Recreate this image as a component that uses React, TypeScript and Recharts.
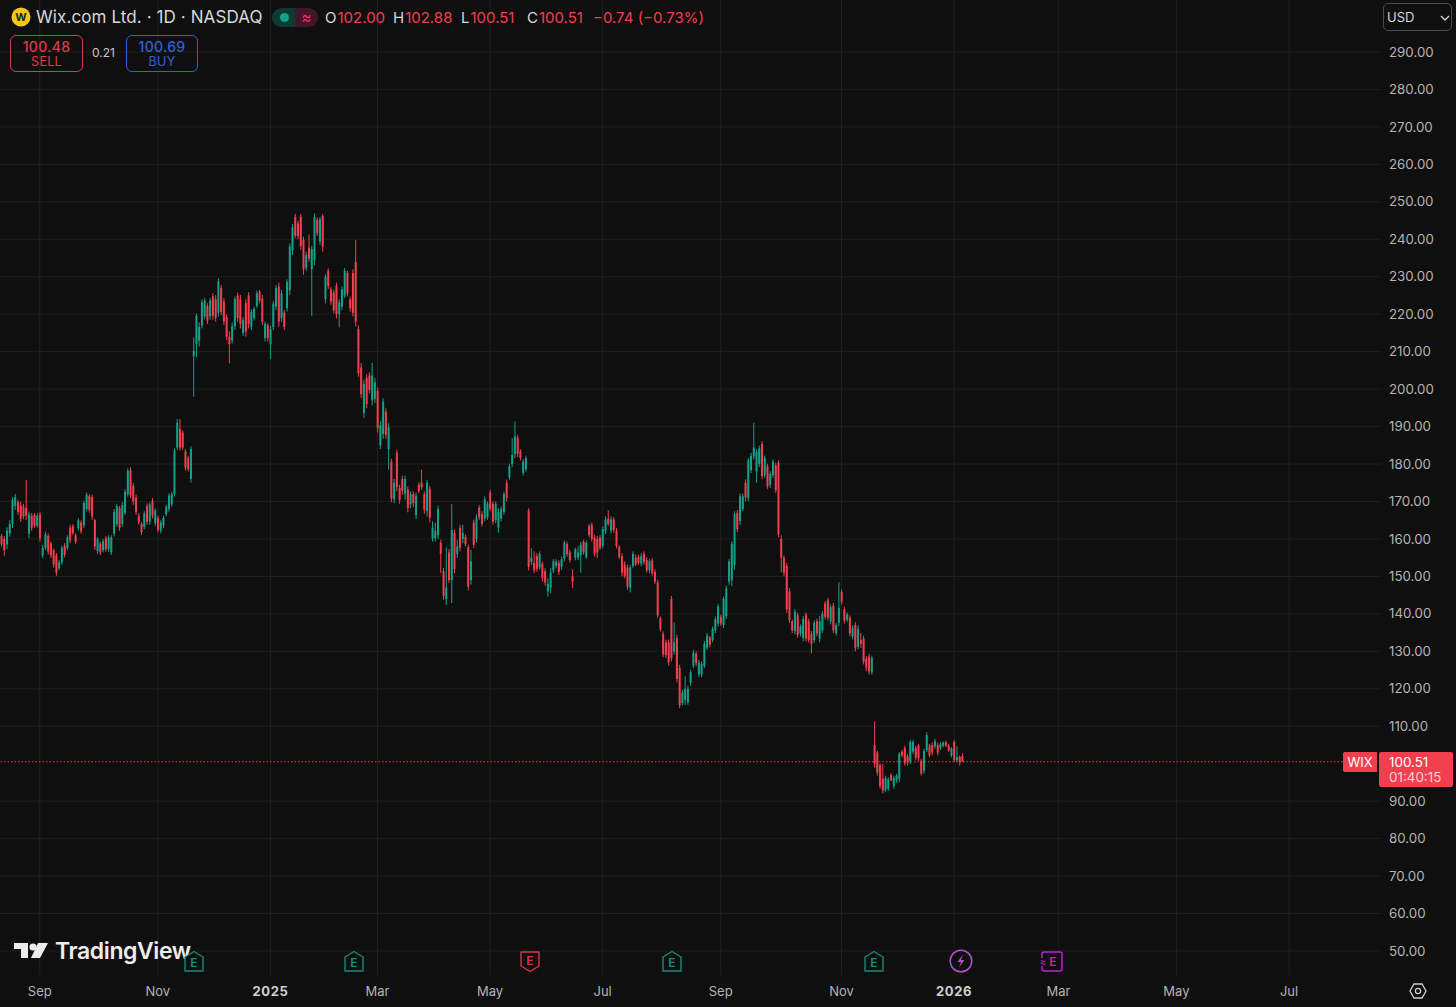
import React from "react";
import {
    ComposedChart,
    Bar,
    XAxis,
    YAxis,
    CartesianGrid,
    ReferenceLine
} from "recharts";

// one row = 10 daily candles, first candle is mid Aug 2024
const highs = [
    161.3,160.8,163.1,165,171.1,172,170.4,170,169.4,175.8,
    167.3,166.9,166.9,166.9,167.2,158.4,162,161.5,159.3,157.5,
    156.2,154.4,158.2,158.9,161,163.8,164,161.5,165.5,165,
    170.2,172.4,172,171.8,165.4,160.5,159.3,160,160.8,161,
    161,168,169.4,168.8,169.8,173.3,178.9,179.1,174.9,171.8,
    166.9,164.5,167.5,169.5,169.8,170.9,168.2,166.2,165,166.2,
    169.1,172.2,172.6,184.2,192,192,189,184,182.2,184.7,
    213.8,220.2,217.8,224,224.3,222.9,224.3,225.6,225.1,229.6,
    227.8,224.3,220,215.4,217.8,224.7,225.8,225.1,219.2,224,
    225.9,221.3,222,226.3,226.5,225.1,218,217.6,216.9,223.6,
    227.8,228.4,226.5,221.1,229.3,238.9,244.1,246.8,245,246.8,
    240.7,236.7,241.2,238.2,246.9,245.9,246,246.8,230.7,232.3,
    227.2,226.5,228.4,224,227.4,232.3,231.6,224.7,232,239.8,
    217,207,202.5,204,204.5,207,203,200.5,191.4,197.6,
    194.9,190.9,181.4,176,183.8,174.5,176.9,176.9,174,172.7,
    172.7,172.4,175.1,178.5,172.7,175.8,174.2,164.7,164.4,168.9,
    159.8,152.2,157.7,157.3,169.3,162.5,159.8,163.8,163.8,161.1,
    158.5,157.1,165.1,166.6,169.1,167.4,171.4,170,173.1,170,
    170,168.2,168.7,172.7,175.8,180.1,186.9,191.4,187.8,184,
    181.3,182.2,168.2,157.5,156.7,156.2,156.7,154,152.2,149.5,
    152.2,154.6,154.6,154.3,155.3,159.6,159.3,157.1,151.9,157.7,
    158,159.3,159.8,159.6,164,164.4,161.1,160.8,161.1,163.3,
    166,167.6,166,165.8,162.9,158.4,156.2,154,153.1,153.1,
    156.7,155.8,155.8,156.2,156.7,155.1,154.6,154.9,151.9,149.1,
    139.3,135.3,133.1,133.1,144.8,137.7,134.4,126.4,119.7,123.3,
    120.8,125.1,130.4,130,127.7,127.3,132.8,134.9,134.1,136.6,
    139.3,142.7,139.8,144.6,147.5,154.6,159.4,167.4,167.7,172.1,
    172.1,175.9,181.6,183,191,184,184.9,186.1,182.3,180.1,
    178.1,181.2,180.3,181,161,155.6,153.6,146.9,138.5,141.3,
    140.3,137.2,139.4,140.4,138.7,135.4,138.3,138.7,139.4,140.7,
    143.4,144.3,142.5,142.9,137.6,148.5,146.5,141.9,140.4,139.6,
    136.9,137.8,136.9,134.9,134.2,128.7,129.4,128.9,111.3,103.5,
    100.1,99.9,96.8,96.4,97.5,96.8,97.3,103.1,103.7,104.8,
    102.6,106.4,106.4,104.8,105.3,101.3,104,108.4,105.3,105.7,
    106.6,105.7,105.7,106,106.2,105.3,104.4,106.4,104.6,102.2,
    102.88
];

const lows = [
    158,155.5,157.3,160.6,162.9,167.8,166.4,164.6,165.3,165.1,
    160.2,162.2,163,163,159.3,154.9,157,155.8,154.9,152.4,
    150.2,151.7,153.1,155.1,157,158.9,161,158.7,162.2,161.4,
    162.9,167.3,167,165.1,157.1,156,155.7,156.4,156.6,156.6,
    155.7,160.6,163.3,162.2,163.3,166.4,171.3,170.9,169.1,166.4,
    163.8,161.1,162.6,163.8,163.8,165.5,163.5,161.7,161.5,162.9,
    166,167.3,168.6,171.3,183.8,183.6,183.8,178.3,178,175,
    198,208.5,211.4,216.2,218.6,217.4,218.5,218.5,218,219.4,
    219.8,217.1,213.1,206.9,212.2,215.8,218,216.2,214.2,214,
    216.2,215.8,218.3,221.6,222.9,217.1,212.7,212.7,208,215.8,
    221.1,216.7,218,215.8,220.7,225.1,235.8,240.3,240,237.2,
    230.5,231.6,234,219.5,233.1,240.9,238.5,236.7,222.9,226.7,
    222.5,220.2,218.9,216.5,221.1,224.3,224.7,220.7,219.4,216.7,
    203.3,197.6,192.3,194.9,198.9,195.6,196.3,188.4,184,186.7,
    186.7,178.5,169.8,169.6,172.7,169.4,171.8,170.5,167.1,168.2,
    168.5,165.3,172.2,173.1,166.7,166,164.4,159.3,159.3,160,
    150.9,143.8,142.4,148.2,142.9,150.9,154.9,156.7,158.9,158,
    146.3,147.8,157.6,159.1,165.1,163.3,164.7,165.1,167.4,163.8,
    164.2,161.7,164.7,166.5,170,175.8,179.2,181.6,181.9,181,
    176.9,178,151.6,153.1,150.9,151.3,151.8,148.6,147.5,144.6,
    145.5,150.9,152.2,150.4,151.8,154,155.3,153.7,146.9,154.3,
    154.4,151,155.8,154.6,160.5,159.3,155.3,154.9,157.1,157.5,
    161.3,163.5,161.5,161.7,157.5,154.6,150,149.5,146.4,145.7,
    152.2,152.7,153.1,152.7,153.1,151,150.9,150.2,148,138.9,
    135.3,128.5,128.2,126.2,127.3,129.1,121.7,114.8,115.5,115.7,
    115.7,120.8,125.5,126,123.1,123.1,125.5,130.4,131.1,132.4,
    134.9,136.6,136.8,136.2,138.6,147.8,147.4,151.8,161.8,163.8,
    167.4,170.1,170.1,177.6,181.2,175,179.2,175.9,176.3,173.4,
    173.6,176.3,172.3,160.5,151.1,150,140.3,137.6,134.9,134.5,
    133.6,134,132.7,132.7,132.3,129.4,132.3,134,132.4,134.9,
    138.5,138.2,137.2,134.9,134.2,136.7,142.5,137.4,137.8,134,
    133.2,130,130.5,130.9,126.5,124.7,123.8,123.8,99,96.8,
    93.3,92.1,92.4,92.8,95.3,93.3,95,95,101.7,99.5,
    99.5,99.9,102.6,101,100.8,96.8,97.3,103.1,101.7,102.2,
    104,102.2,103.7,104.4,104.4,103.1,101.7,100.4,100.4,99.5,
    100.51
];

const opens = [
    160.8,160,158.5,161.5,164,168.8,169.8,169,168.6,168.2,
    161.4,166.2,166.4,163.5,166.6,155.6,157.6,160.8,158.8,157,
    155.6,152.2,153.8,158.2,157.6,163,163.4,161,162.8,164.4,
    163.6,168,171.4,171.2,165,156.8,158.8,157,160.2,157.4,
    156.4,161.4,164,168.2,164,167,172,178.4,174.2,171,
    166.2,164,163.2,168.8,164.6,170.2,164.2,165.6,162.2,163.6,
    166.6,168,169.2,172,184.4,189.4,188.4,183.4,181.6,176,
    208.8,212,213,217,219.4,222.2,219.4,224.8,224,220.4,
    227,223.4,219.2,214,213,216.8,225,224,215,223,
    225,216.6,219,222.2,226,224.2,213.6,217,212,216.6,
    222,227.4,219,220.4,221.6,226.4,237,246,244.2,246,
    239.8,232.4,237.8,232,234.4,245.2,239.4,246.2,224,231.6,
    226.6,225.8,227.6,220,222,225,231,224,231,234,
    216,205.8,193.6,203,203.6,197,197.4,199.6,185,188,
    194,184,180.6,170.6,183,173.6,176,172,173.2,169.2,
    172,166.4,174.4,175,172,167.4,173.4,160.2,160.2,161,
    159,151.4,144,156.4,149,161.6,156,163,160,160.6,
    157.8,149,164.4,160,168.4,166.6,165.4,165.8,172.4,169.4,
    165,163,165.4,167.2,175,176.4,180,182.6,187,183.4,
    177.6,178.6,167.6,153.8,153.6,155.4,152.4,153.4,151.4,146,
    147,151.6,152.8,153.6,152.6,154.8,158.6,156.4,150,155,
    155,155.6,159.2,155.2,163.4,163.8,160.4,160,160.4,158.2,
    162,165.4,162.2,165.2,162.2,157.8,155.4,153.2,152.4,147,
    152.8,155,155.2,153.4,156,154.4,151.6,154.2,151.2,148.4,
    138.8,134.6,132.4,132.4,144,130,133.6,125.6,116.2,117,
    116.4,121.6,126.2,129.4,123.8,123.8,126.2,131,133.6,133,
    135.6,137.4,139.2,137,139.4,148.6,149,153,167,164.8,
    168,175,171,178.4,182,178,180,185.4,177,179.4,
    174.4,177,179.6,180.4,160,155,152.8,146,138,135.4,
    139.6,134.8,133.6,139.8,138,134.6,133,138,133.4,135.6,
    142.8,143.6,138,142.2,134.8,137.6,145.8,141.2,138.4,139,
    134,137,131.2,133,133.4,128,128.6,124.4,105,103,
    99.6,96,93,93.4,97,94,95.6,96,103.2,104.2,
    102,100.6,103.2,104.2,104.8,100.8,98,103.6,104.8,105,
    104.6,105,104.2,104.8,105.8,104.8,102.2,105.8,100.9,101.8,
    102
];

const closes = [
    158.6,157,162.2,164,170.5,171.2,167.2,165.4,166,166.2,
    166.6,163,163.6,166.2,160.2,157.6,161.2,156.6,155.6,153.2,
    151,153.8,157.6,155.8,160.4,159.6,161.6,159.2,165,162,
    169.6,171.8,167.8,166,158,160,156.4,159.4,157.2,160.4,
    160.4,167.2,168.8,163,169,172.6,178.2,171.6,170,167.2,
    164.4,161.8,166.8,164.6,169.2,166.2,167.6,162.4,164.4,165.6,
    168.6,171.6,172,183.6,191,184.4,184.4,179,178.6,184,
    210.2,219.6,216.6,223.2,223.6,218.2,223.6,219.6,219,228.8,
    220.6,218,214,212,216.8,224,219,217.4,218.4,215.4,
    217.4,220.6,221.4,225.6,223.6,218,217.4,213.6,216,222.8,
    227,218,225.6,216.6,228.6,238,243.2,241,240.8,238.2,
    232,235.8,234.8,237.4,246,241.6,245.4,238,230,227.6,
    223.4,221,220,223.2,226.6,231.6,225.6,221.6,220.4,218,
    204.2,198.6,201.4,196,199.8,203.6,201.8,189.6,190.4,196.6,
    187.8,189.8,170.8,175,173.8,170.4,172.8,176,168.2,172,
    169.6,171.6,172.8,173.8,167.8,175,165.6,163,162.2,168,
    156,144.8,147,149,162.4,152,158,157.6,161.6,158.6,
    147.2,154,158.4,165.8,165.8,164,170.6,169.4,168,164.6,
    169.4,167.2,168,172,171,179.4,182.4,187.4,182.8,181.6,
    180.6,181.6,152.6,155,151.6,152,156,149.6,148.4,148,
    151,154,154,151.2,154.6,159,156,154.4,148.6,157.2,
    156.4,158.4,156.4,159,161,160,156,156.4,157.6,162.6,
    165.2,164,165.2,162.4,158.2,155.2,151,150.2,147.2,152.4,
    156,153.2,153.6,155.4,153.8,151.6,154,150.8,148.6,139.6,
    135.8,129.2,129,127,128.2,132.4,122.6,115.6,119,120,
    120,124.4,129.6,126.8,127,126.6,132,134.2,131.8,136,
    138.6,142,137.4,144,146.8,154,158.6,166.6,162.6,171.4,
    171.4,171,181,182.2,184.4,183.2,184.2,176.8,181.6,174,
    177.4,180.6,173,161.2,155,151,141.2,138.4,135.6,140.6,
    134.4,136.6,138.6,133.4,133,132,137.6,134.8,138,140,
    139.2,139,141.8,135.6,137,141.6,143.2,138.2,139.8,134.8,
    136.2,130.8,136,132,127.2,125.6,124.6,128.2,100,97.6,
    94,92.8,96.2,95.8,95.6,96.2,96.8,102.6,102.2,100.2,
    100.2,105.8,105.8,101.6,101.4,97.4,103.4,107.6,102.2,103,
    106,103,105.2,105.6,104.8,103.6,104,101,101.8,100.4,
    100.51
];

const slotCount = 503;
const priceTicks = [290,280,270,260,250,240,230,220,210,200,190,180,170,160,150,140,130,120,110,90,80,70,60,50];
const timeTickIndex = [14,57,98,137,178,219,262,306,347,385,428,469];
const timeTickLabels = ["Sep","Nov","2025","Mar","May","Jul","Sep","Nov","2026","Mar","May","Jul"];
const lastPrice = 100.51;

const data = Array.from({ length: slotCount }, (_, i) =>
    i < closes.length
        ? { idx: i, open: opens[i], close: closes[i], high: highs[i], low: lows[i], range: [lows[i], highs[i]] }
        : { idx: i }
);

const UP = "#14a08a";
const DOWN = "#f23f4f";
const BG = "#0f0f0f";
const GRID = "#1e1e1e";
const TXT = "#b4b4b4";
const FONT = "Inter, 'Noto Sans', sans-serif";

const Candle = (props: any) => {
    const { x, y, width, height, payload } = props;
    if (payload == null || payload.high == null) return null;
    const { open, close, high, low } = payload;
    const py = (v: number) => y + ((high - v) / (high - low)) * height;
    const cx = x + width / 2;
    const color = close >= open ? UP : DOWN;
    const top = py(Math.max(open, close));
    const bottom = py(Math.min(open, close));
    return (
        <g>
            <rect x={cx - 0.5} y={y} width={1} height={height} fill={color} />
            <rect x={cx - 1} y={top} width={2} height={Math.max(bottom - top, 1)} fill={color} />
        </g>
    );
};

const TimeTick = (props: any) => {
    const { x, y, index } = props;
    const label = timeTickLabels[index];
    const isYear = label.length === 4;
    return (
        <text
            x={x}
            y={y + 1}
            textAnchor="middle"
            dominantBaseline="middle"
            fill={isYear ? "#d0d0d0" : TXT}
            fontSize={13}
            fontWeight={isYear ? 700 : 400}
            fontFamily={FONT}
            letterSpacing={isYear ? 0.6 : 0}
        >
            {label}
        </text>
    );
};

const PriceTick = (props: any) => {
    const { x, y, payload } = props;
    return (
        <text x={x} y={y + 1} dominantBaseline="middle" fill={TXT} fontSize={13.3} fontFamily={FONT}>
            {payload.value.toFixed(2)}
        </text>
    );
};

const abs = (left: number, top: number, extra: React.CSSProperties = {}): React.CSSProperties => ({
    position: "absolute",
    left,
    top,
    whiteSpace: "nowrap",
    fontFamily: FONT,
    ...extra
});

const EarnIcon = ({ cx, color, down }: { cx: number; color: string; down?: boolean }) => (
    <svg style={{ position: "absolute", left: cx - 11, top: 950 }} width={22} height={23}>
        <path
            d={down ? "M2 2 H20 V16 L11 21.5 L2 16 Z" : "M11 1.5 L20 7 V21 H2 V7 Z"}
            fill={BG}
            stroke={color}
            strokeWidth={1.4}
            strokeLinejoin="round"
        />
        <text x={11} y={down ? 15 : 17} textAnchor="middle" fontSize={12} fontWeight={600} fill={color} fontFamily={FONT}>E</text>
    </svg>
);

const Quote = ({ left, k, v }: { left: number; k: string; v: string }) => (
    <div style={abs(left, 9, { fontSize: 15, lineHeight: "17px", color: "#d8d8d8" })}>
        {k}
        <span style={{ color: "#f23f4f", marginLeft: 1 }}>{v}</span>
    </div>
);

const TradeBox = ({ left, width, color, price, label }: { left: number; width: number; color: string; price: string; label: string }) => (
    <div
        style={abs(left, 35, {
            width,
            height: 37,
            boxSizing: "border-box",
            border: `1.3px solid ${color}`,
            borderRadius: 6,
            color,
            textAlign: "center"
        })}
    >
        <div style={{ fontSize: 14, lineHeight: "15px", marginTop: 3, fontWeight: 500, letterSpacing: 0.3 }}>{price}</div>
        <div style={{ fontSize: 12.5, lineHeight: "15px", letterSpacing: 0.3 }}>{label}</div>
    </div>
);

const App: React.FC = () => {
    return (
        <div style={{ position: "fixed", left: 0, top: 0, width: 1456, height: 1007, background: BG, overflow: "hidden" }}>
            <ComposedChart
                width={1456}
                height={1007}
                data={data}
                margin={{ top: 0, right: 0, left: 0, bottom: 0 }}
                barCategoryGap={0}
            >
                <CartesianGrid stroke={GRID} strokeWidth={1} syncWithTicks />
                <XAxis
                    dataKey="idx"
                    type="category"
                    ticks={timeTickIndex}
                    interval={0}
                    height={32}
                    tick={<TimeTick />}
                    tickLine={false}
                    axisLine={false}
                    tickSize={0}
                    tickMargin={16}
                />
                <YAxis
                    orientation="right"
                    width={75}
                    domain={[43.59, 303.88]}
                    allowDataOverflow
                    ticks={priceTicks}
                    interval={0}
                    tick={<PriceTick />}
                    tickLine={false}
                    axisLine={false}
                    tickSize={0}
                    tickMargin={8}
                />
                <ReferenceLine y={lastPrice} stroke="#f23f4f" strokeDasharray="1.5 2" strokeWidth={1} />
                <Bar dataKey="range" shape={<Candle />} isAnimationActive={false} />
            </ComposedChart>

            {/* header */}
            <svg style={{ position: "absolute", left: 11, top: 7 }} width={20} height={20}>
                <circle cx={10} cy={10} r={9.5} fill="#f5c518" />
                <text x={10} y={14} textAnchor="middle" fontSize={11} fontWeight={700} fill="#222" fontFamily={FONT}>W</text>
            </svg>
            <div style={abs(36, 7, { fontSize: 17, lineHeight: "20px", color: "#d8d8d8", letterSpacing: 0.1 })}>Wix.com Ltd. · 1D · NASDAQ</div>
            <div style={abs(272, 8, { width: 23, height: 19, background: "#0f3a33", borderRadius: "10px 0 0 10px" })} />
            <div style={abs(295, 8, { width: 23, height: 19, background: "#451527", borderRadius: "0 10px 10px 0", color: "#f0306a", fontSize: 15, lineHeight: "19px", textAlign: "center" })}>≈</div>
            <div style={abs(280, 13, { width: 9, height: 9, borderRadius: 5, background: "#14a08a" })} />
            <Quote left={325} k="O" v="102.00" />
            <Quote left={393} k="H" v="102.88" />
            <Quote left={461} k="L" v="100.51" />
            <Quote left={527} k="C" v="100.51" />
            <div style={abs(593, 9, { fontSize: 15, lineHeight: "17px", color: "#f23f4f" })}>−0.74 (−0.73%)</div>
            <TradeBox left={10} width={73} color="#e03a48" price="100.48" label="SELL" />
            <div style={abs(92, 46, { fontSize: 12, lineHeight: "14px", color: "#c8c8c8" })}>0.21</div>
            <TradeBox left={126} width={72} color="#2f62d8" price="100.69" label="BUY" />

            {/* currency selector */}
            <div
                style={abs(1383, 3, {
                    width: 69,
                    height: 28,
                    boxSizing: "border-box",
                    border: "1px solid #4a4a4a",
                    borderRadius: 5,
                    background: BG,
                    color: "#d8d8d8",
                    fontSize: 13,
                    lineHeight: "26px",
                    paddingLeft: 3
                })}
            >
                USD
            </div>
            <svg style={{ position: "absolute", left: 1440, top: 14 }} width={10} height={8}>
                <path d="M1 2 L5 6 L9 2" stroke="#d8d8d8" strokeWidth={1.3} fill="none" />
            </svg>

            {/* last price tags */}
            <div style={abs(1343, 752, { width: 34, height: 20, background: "#f23f4f", borderRadius: "2px 0 0 2px", color: "#fff", fontSize: 13, lineHeight: "20px", textAlign: "center" })}>WIX</div>
            <div style={abs(1379, 752, { width: 74, height: 35, background: "#f23f4f", borderRadius: 2, color: "#fff", fontSize: 13.4, lineHeight: "15px", paddingLeft: 10, paddingTop: 3, boxSizing: "border-box" })}>
                <div>100.51</div>
                <div style={{ color: "#ffd3d6" }}>01:40:15</div>
            </div>

            {/* watermark */}
            <svg style={{ position: "absolute", left: 14, top: 942 }} width={36} height={18}>
                <path d="M0 1 H14 V16 H7 V7 H0 Z" fill="#ececec" />
                <circle cx={19} cy={5} r={3.6} fill="#ececec" />
                <path d="M24 1 H34 L26 16 H17 Z" fill="#ececec" />
            </svg>
            <div style={abs(55, 937, { fontSize: 23, lineHeight: "28px", fontWeight: 600, color: "#ececec", letterSpacing: -0.4 })}>TradingView</div>

            {/* event markers */}
            <EarnIcon cx={194} color="#1c8a76" />
            <EarnIcon cx={354} color="#1c8a76" />
            <EarnIcon cx={530} color="#d93545" down />
            <EarnIcon cx={672} color="#1c8a76" />
            <EarnIcon cx={874} color="#1c8a76" />
            <svg style={{ position: "absolute", left: 949, top: 949 }} width={24} height={24}>
                <circle cx={12} cy={12} r={10.8} fill={BG} stroke="#b44fc8" strokeWidth={1.5} />
                <path d="M14 5.5 L8.5 13 H12 L10 18.5 L15.5 11 H12 Z" fill="#b44fc8" />
            </svg>
            <svg style={{ position: "absolute", left: 1038, top: 950 }} width={26} height={23}>
                <rect x={4} y={2} width={20} height={19} rx={2} fill={BG} stroke="#c21fd0" strokeWidth={1.5} />
                <rect x={1} y={8} width={6} height={8} fill={BG} />
                <text x={15} y={16} textAnchor="middle" fontSize={12} fontWeight={600} fill="#c21fd0" fontFamily={FONT}>E</text>
                <text x={5} y={15} textAnchor="middle" fontSize={9} fill="#c21fd0" fontFamily={FONT}>≈</text>
            </svg>

            {/* settings */}
            <svg style={{ position: "absolute", left: 1409, top: 982 }} width={18} height={18}>
                <path d="M5 2 H13 L17 9 L13 16 H5 L1 9 Z" fill="none" stroke="#d0d0d0" strokeWidth={1.3} />
                <circle cx={9} cy={9} r={2.6} fill="none" stroke="#d0d0d0" strokeWidth={1.3} />
            </svg>
        </div>
    );
};

export default App;
